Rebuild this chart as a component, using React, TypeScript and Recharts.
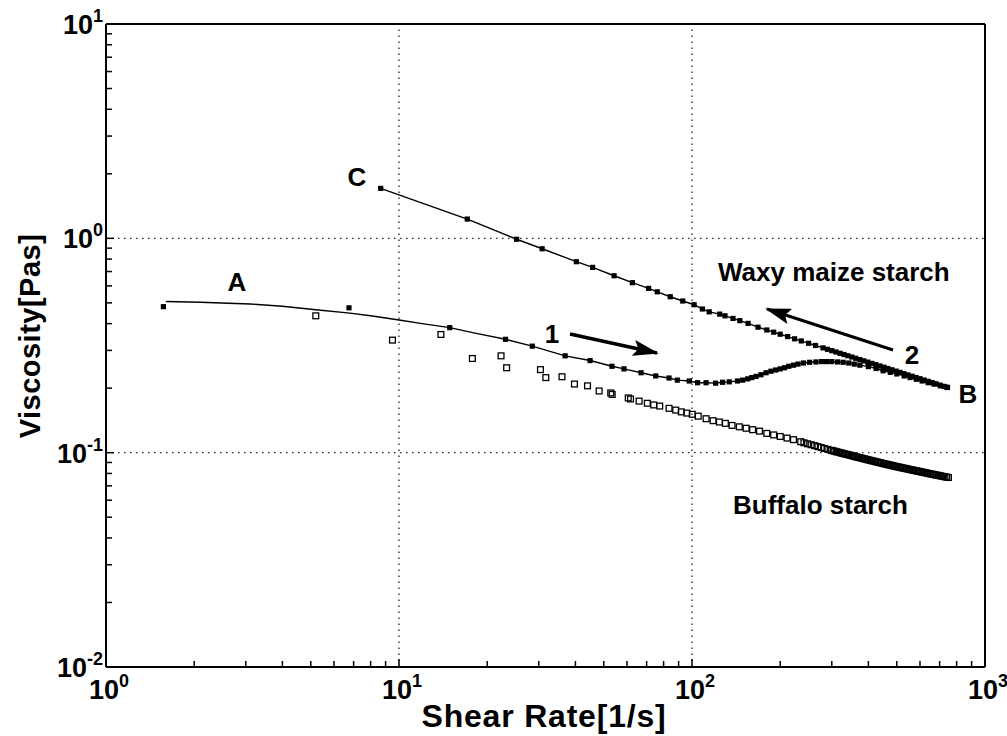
import React from 'react';
import { ScatterChart, Scatter, XAxis, YAxis, ReferenceLine } from 'recharts';

// waxy maize, down-sweep (B -> C), filled squares + line
const waxyDownX = [8.66, 17.1, 25.2, 30.8, 40.3, 45.8, 54.2, 62.6, 71.1, 76.1, 84.3, 93.0, 101.7, 108.5, 114.5, 124.3, 129.6, 138, 145.6, 155.4, 168, 180, 190, 200, 212, 224, 236, 250, 264, 280, 290, 300, 310, 320, 330, 340, 351, 362, 374, 386, 398, 411, 424, 438, 452, 466, 481, 497, 513, 529, 546, 564, 582, 600, 620, 640, 660, 681, 703, 725, 745];
const waxyDownY = [1.71, 1.23, 0.99, 0.894, 0.778, 0.732, 0.669, 0.621, 0.584, 0.563, 0.534, 0.51, 0.49, 0.468, 0.454, 0.443, 0.435, 0.423, 0.413, 0.401, 0.385, 0.3736, 0.3649, 0.3569, 0.348, 0.3397, 0.3321, 0.3239, 0.3163, 0.3083, 0.3036, 0.2992, 0.2949, 0.2909, 0.2871, 0.2833, 0.2795, 0.2757, 0.2718, 0.2681, 0.2645, 0.2609, 0.2574, 0.2538, 0.2503, 0.247, 0.2436, 0.2402, 0.2369, 0.2337, 0.2305, 0.2273, 0.2242, 0.2213, 0.2182, 0.2152, 0.2123, 0.2095, 0.2066, 0.2038, 0.2014];

// waxy maize, up-sweep (A -> B), filled squares
const waxyUpX = [1.57, 6.75, 14.9, 23.1, 28.5, 36.9, 44.9, 53.3, 58.6, 67, 75.2, 83.5, 89.1, 97.9, 104.5, 111.7, 120.4, 127.2, 134, 143, 149, 155, 160, 165.5, 172, 179, 186, 193, 200, 207, 214, 222, 230, 240, 252, 265, 277, 288, 300, 314, 328, 343, 358, 374, 400, 425, 449, 475, 500, 530, 555, 583, 610, 640, 670, 705, 740];
const waxyUpY = [0.48, 0.474, 0.383, 0.338, 0.314, 0.283, 0.269, 0.253, 0.246, 0.236, 0.228, 0.223, 0.218, 0.216, 0.212, 0.212, 0.211, 0.213, 0.214, 0.216, 0.218, 0.221, 0.224, 0.227, 0.231, 0.236, 0.24, 0.243, 0.246, 0.249, 0.253, 0.256, 0.259, 0.262, 0.264, 0.265, 0.266, 0.266, 0.266, 0.265, 0.264, 0.262, 0.259, 0.256, 0.252, 0.247, 0.241, 0.237, 0.233, 0.228, 0.224, 0.22, 0.216, 0.212, 0.209, 0.205, 0.202];

// fitted curve through the low shear part of the up-sweep
const fitX = [1.6, 2.1, 3.1, 4, 5.2, 6.8, 8, 10, 12, 14.9, 18];
const fitY = [0.507, 0.503, 0.494, 0.482, 0.464, 0.448, 0.435, 0.416, 0.4, 0.383, 0.362];

// buffalo starch, open squares
const bufX = [
  5.2, 9.5, 13.9, 17.8, 22.3, 23.3, 30.4, 31.7, 36, 39.7, 44, 48.2, 52.8, 53.4, 60.6, 61.7, 66, 70.4, 74, 77.6,
  83.5, 88, 91.9, 96, 100.2, 105, 111.7, 118, 124, 130, 137, 145, 153, 161, 170, 180, 190, 200, 211, 222,
  235, 241, 248, 255, 262, 269, 276, 283, 291,
  299, 303, 307, 311, 315, 319, 323, 327, 331, 335, 340, 344, 349, 353, 358, 362, 367, 372, 377, 382,
  387, 392, 397, 402, 407, 412, 418, 423, 429, 434, 440, 445, 451, 457, 463, 469, 475, 481, 487, 493,
  499, 505, 512, 518, 525, 532, 539, 546, 553, 560, 567, 574, 582, 589, 597, 604, 612, 620, 628, 636,
  644, 652, 660, 668, 677, 685, 694, 703, 712, 721, 730, 740, 750,
];
const bufY = [
  0.435, 0.335, 0.356, 0.275, 0.283, 0.249, 0.244, 0.224, 0.226, 0.209, 0.205, 0.194, 0.19, 0.187, 0.18, 0.178, 0.174, 0.17, 0.167, 0.165,
  0.161, 0.158, 0.155, 0.153, 0.151, 0.148, 0.144, 0.141, 0.139, 0.137, 0.134, 0.132, 0.13, 0.128, 0.126, 0.123, 0.121, 0.119, 0.117, 0.115,
  0.1125, 0.1112, 0.11, 0.1089, 0.1078, 0.1067, 0.1057, 0.1046, 0.1036,
  0.1025, 0.102, 0.1015, 0.101, 0.1006, 0.1001, 0.0997, 0.0992, 0.0988, 0.0984, 0.098, 0.0975, 0.0971, 0.0966, 0.0962, 0.0957, 0.0953, 0.0949, 0.0945, 0.094,
  0.0936, 0.0932, 0.0928, 0.0924, 0.092, 0.0916, 0.0912, 0.0908, 0.0904, 0.09, 0.0897, 0.0893, 0.0889, 0.0885, 0.0882, 0.0878, 0.0875, 0.0871, 0.0868, 0.0864,
  0.0861, 0.0858, 0.0855, 0.0851, 0.0848, 0.0845, 0.0842, 0.0838, 0.0835, 0.0832, 0.0829, 0.0826, 0.0823, 0.082, 0.0817, 0.0814, 0.0811, 0.0808, 0.0805, 0.0802,
  0.0799, 0.0796, 0.0794, 0.0791, 0.0788, 0.0785, 0.0783, 0.078, 0.0777, 0.0774, 0.0772, 0.0769, 0.0766,
];

const xTicks = [1, 2, 3, 4, 5, 6, 7, 8, 9, 10, 20, 30, 40, 50, 60, 70, 80, 90, 100, 200, 300, 400, 500, 600, 700, 800, 900, 1000];
const yTicks = [0.01, 0.02, 0.03, 0.04, 0.05, 0.06, 0.07, 0.08, 0.09, 0.1, 0.2, 0.3, 0.4, 0.5, 0.6, 0.7, 0.8, 0.9, 1, 2, 3, 4, 5, 6, 7, 8, 9, 10];
const gridX = [10, 100];
const gridY = [0.1, 1];

const FONT = '"Liberation Sans", Arial, Helvetica, sans-serif';

const zip = (xs: number[], ys: number[]) => xs.map((x, i) => ({ x, y: ys[i] }));

const decade = (v: number) => {
  const l = Math.log10(v);
  const e = Math.round(l);
  return { e, major: Math.abs(l - e) < 1e-6 };
};

const XTick = ({ x, y, payload }: any) => {
  const { e, major } = decade(payload.value);
  return (
    <g>
      <line x1={x} x2={x} y1={y} y2={y - (major ? 8 : 6)} stroke="#000" strokeWidth={1.5} />
      {major && (
        <text x={x + 3} y={y + 32} textAnchor="middle" fontFamily={FONT} fontWeight="bold" fontSize={27} fill="#000">
          10<tspan dy={-12} fontSize={18}>{e}</tspan>
        </text>
      )}
    </g>
  );
};

const YTick = ({ x, y, payload }: any) => {
  const { e, major } = decade(payload.value);
  return (
    <g>
      <line x1={x} x2={x + (major ? 8 : 6)} y1={y} y2={y} stroke="#000" strokeWidth={1.5} />
      {major && (
        <text x={x - 3} y={y + 10} textAnchor="end" fontFamily={FONT} fontWeight="bold" fontSize={27} fill="#000">
          10<tspan dy={-12} fontSize={18}>{e}</tspan>
        </text>
      )}
    </g>
  );
};

const FilledSq = (p: any) => <rect x={p.cx - 2.6} y={p.cy - 2.6} width={5.2} height={5.2} fill="#000" />;
const OpenSq = (p: any) => (
  <rect x={p.cx - 2.9} y={p.cy - 2.9} width={5.8} height={5.8} fill="none" stroke="#000" strokeWidth={1.3} />
);
const NoDot = () => <g />;

export default function App() {
  const waxyDown = zip(waxyDownX, waxyDownY);
  const waxyUp = zip(waxyUpX, waxyUpY);
  const waxyUpLine = [...zip(fitX, fitY), ...waxyUp.slice(3)];
  const buffalo = zip(bufX, bufY);
  const txt = { fontFamily: FONT, fontWeight: 'bold' as const, fill: '#000' };

  return (
    <div style={{ position: 'absolute', left: 0, top: 0, width: 1007, height: 736, background: '#fff' }}>
      <ScatterChart width={1007} height={736} margin={{ top: 24, right: 22, bottom: 9, left: 36 }}>
        <XAxis
          type="number"
          dataKey="x"
          scale="log"
          domain={[1, 1000]}
          allowDataOverflow
          ticks={xTicks}
          interval={0}
          tick={<XTick />}
          tickLine={false}
          tickSize={0}
          tickMargin={0}
          height={60}
          axisLine={{ stroke: '#000', strokeWidth: 2 }}
        />
        <YAxis
          type="number"
          dataKey="y"
          scale="log"
          domain={[0.01, 10]}
          allowDataOverflow
          ticks={yTicks}
          interval={0}
          tick={<YTick />}
          tickLine={false}
          tickSize={0}
          tickMargin={0}
          width={70}
          axisLine={{ stroke: '#000', strokeWidth: 2 }}
        />
        {gridX.map((g) => (
          <ReferenceLine key={'gx' + g} x={g} stroke="#222" strokeWidth={1.3} strokeDasharray="1.5 4.5" />
        ))}
        {gridY.map((g) => (
          <ReferenceLine key={'gy' + g} y={g} stroke="#222" strokeWidth={1.3} strokeDasharray="1.5 4.5" />
        ))}
        <ReferenceLine x={1000} stroke="#000" strokeWidth={2} />
        <ReferenceLine y={10} stroke="#000" strokeWidth={2} />
        <Scatter data={buffalo} shape={<OpenSq />} isAnimationActive={false} />
        <Scatter data={waxyUpLine} shape={<NoDot />} line={{ stroke: '#000', strokeWidth: 1.4 }} isAnimationActive={false} />
        <Scatter data={waxyUp} shape={<FilledSq />} isAnimationActive={false} />
        <Scatter data={waxyDown} shape={<FilledSq />} line={{ stroke: '#000', strokeWidth: 1.4 }} isAnimationActive={false} />
      </ScatterChart>
      <svg width={1007} height={736} style={{ position: 'absolute', left: 0, top: 0, pointerEvents: 'none' }}>
        <defs>
          <marker id="head" markerUnits="userSpaceOnUse" markerWidth={26} markerHeight={16} refX={24} refY={8} orient="auto">
            <path d="M0,0 L26,8 L0,16 L5,8 Z" fill="#000" />
          </marker>
        </defs>
        <text x={30} y={336} transform="rotate(-90 30 336)" textAnchor="middle" dominantBaseline="central" fontSize={29} letterSpacing={0.5} {...txt}>
          Viscosity[Pas]
        </text>
        <text x={544} y={727} textAnchor="middle" fontSize={32} letterSpacing={0.8} {...txt}>Shear Rate[1/s]</text>
        <text x={357} y={186} textAnchor="middle" fontSize={26} {...txt}>C</text>
        <text x={237} y={291} textAnchor="middle" fontSize={26} {...txt}>A</text>
        <text x={552} y={343} textAnchor="middle" fontSize={26} {...txt}>1</text>
        <text x={912} y={364} textAnchor="middle" fontSize={26} {...txt}>2</text>
        <text x={968} y={403} textAnchor="middle" fontSize={26} {...txt}>B</text>
        <text x={718} y={281} fontSize={26} {...txt}>Waxy maize starch</text>
        <text x={733} y={514} fontSize={26} {...txt}>Buffalo starch</text>
        <line x1={570} y1={334} x2={657} y2={353} stroke="#000" strokeWidth={3.5} markerEnd="url(#head)" />
        <line x1={893} y1={350} x2={767} y2={309} stroke="#000" strokeWidth={3} markerEnd="url(#head)" />
      </svg>
    </div>
  );
}
